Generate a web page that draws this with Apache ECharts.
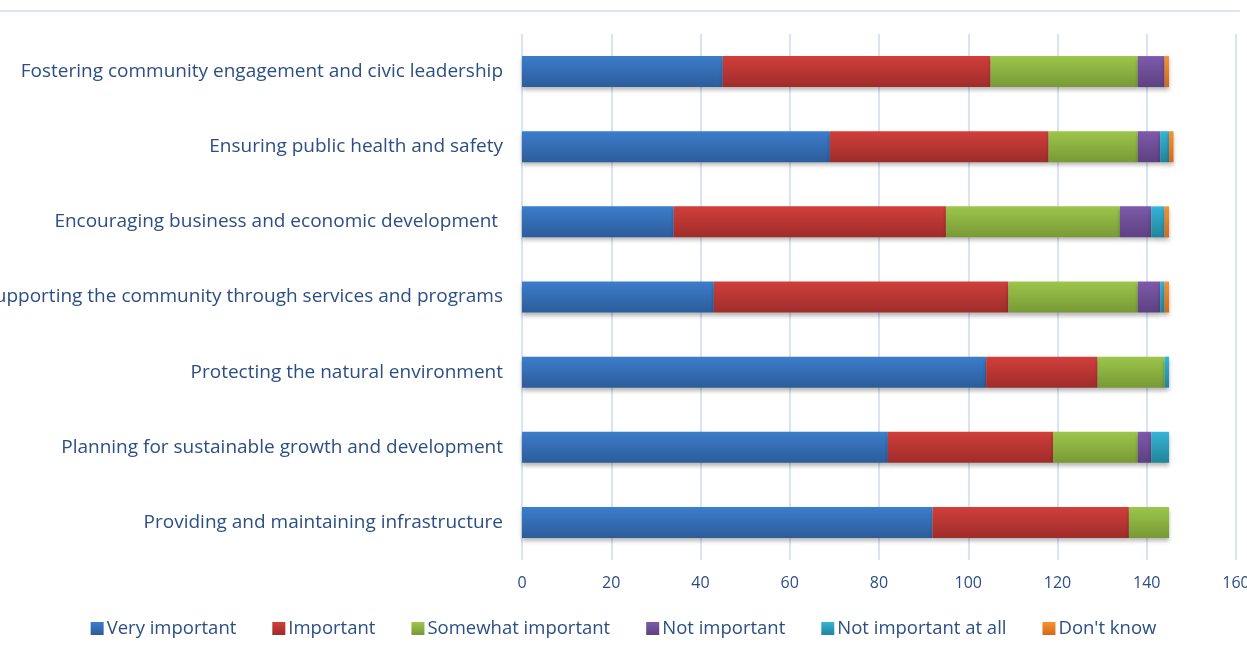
<!DOCTYPE html>
<html>
<head>
<meta charset="utf-8">
<script src="https://cdn.jsdelivr.net/npm/echarts@6/dist/echarts.min.js"></script>
<style>
  html, body { margin: 0; padding: 0; background: #fff; }
  #chart { width: 1247px; height: 649px; }
</style>
</head>
<body>
<div id="chart"></div>
<script>
// categories bottom -> top (as drawn on a category y axis)
var categories = [
  "Providing and maintaining infrastructure",
  "Planning for sustainable growth and development",
  "Protecting the natural environment",
  "Supporting the community through services and programs",
  "Encouraging business and economic development ",
  "Ensuring public health and safety",
  "Fostering community engagement and civic leadership"
];
var veryImportant     = [92, 82, 104, 43, 34, 69, 45];
var important         = [44, 37, 25, 66, 61, 49, 60];
var somewhatImportant = [9, 19, 15, 29, 39, 20, 33];
var notImportant      = [0, 3, 0, 5, 7, 5, 6];
var notImportantAtAll = [0, 4, 1, 1, 3, 2, 0];
var dontKnow          = [0, 0, 0, 1, 1, 1, 1];

var seriesNames = ["Very important", "Important", "Somewhat important", "Not important", "Not important at all", "Don't know"];
var seriesData = [veryImportant, important, somewhatImportant, notImportant, notImportantAtAll, dontKnow];
var topColors = ["#3c7dcc", "#d03f3b", "#9dc64b", "#7d5aaa", "#36b4d8", "#f8922f"];
var bottomColors = ["#2c5c9a", "#9f2c2a", "#789936", "#5c4182", "#218499", "#d3691c"];

var textColor = "#2b4f85";
var fontFam = "'Open Sans', Lato, sans-serif";

var chart = echarts.init(document.getElementById("chart"));

var series = seriesNames.map(function (name, i) {
  return {
    name: name,
    type: "bar",
    stack: "total",
    barWidth: 31,
    data: seriesData[i],
    itemStyle: {
      color: new echarts.graphic.LinearGradient(0, 0, 0, 1, [
        { offset: 0, color: topColors[i] },
        { offset: 1, color: bottomColors[i] }
      ]),
      shadowColor: "rgba(0,0,0,0.28)",
      shadowBlur: 4,
      shadowOffsetY: 3
    },
    emphasis: { disabled: true }
  };
});

chart.setOption({
  animation: false,
  textStyle: { fontFamily: fontFam },
  color: topColors,
  grid: { left: 522, right: 11, top: 34, bottom: 89, outerBoundsMode: "none", containLabel: false },
  graphic: [{
    type: "line",
    shape: { x1: 0, y1: 11, x2: 1240, y2: 11 },
    style: { stroke: "#dde6f2", lineWidth: 2 }
  }],
  legend: {
    bottom: 6,
    left: "center",
    itemWidth: 13,
    itemHeight: 13,
    itemGap: 36,
    icon: "rect",
    textStyle: { color: textColor, fontSize: 18.5, fontFamily: fontFam, padding: [0, 0, 0, -2] },
    data: seriesNames
  },
  xAxis: {
    type: "value",
    min: 0,
    max: 160,
    interval: 20,
    axisLine: { show: false },
    axisTick: { show: false },
    axisLabel: { color: textColor, fontSize: 16, margin: 15, fontFamily: fontFam },
    splitLine: { lineStyle: { color: "#d9e3f1", width: 2 } }
  },
  yAxis: {
    type: "category",
    data: categories,
    axisLine: { show: false },
    axisTick: { show: false },
    axisLabel: { color: textColor, fontSize: 19, margin: 19, fontFamily: fontFam }
  },
  series: series
});
</script>
</body>
</html>
